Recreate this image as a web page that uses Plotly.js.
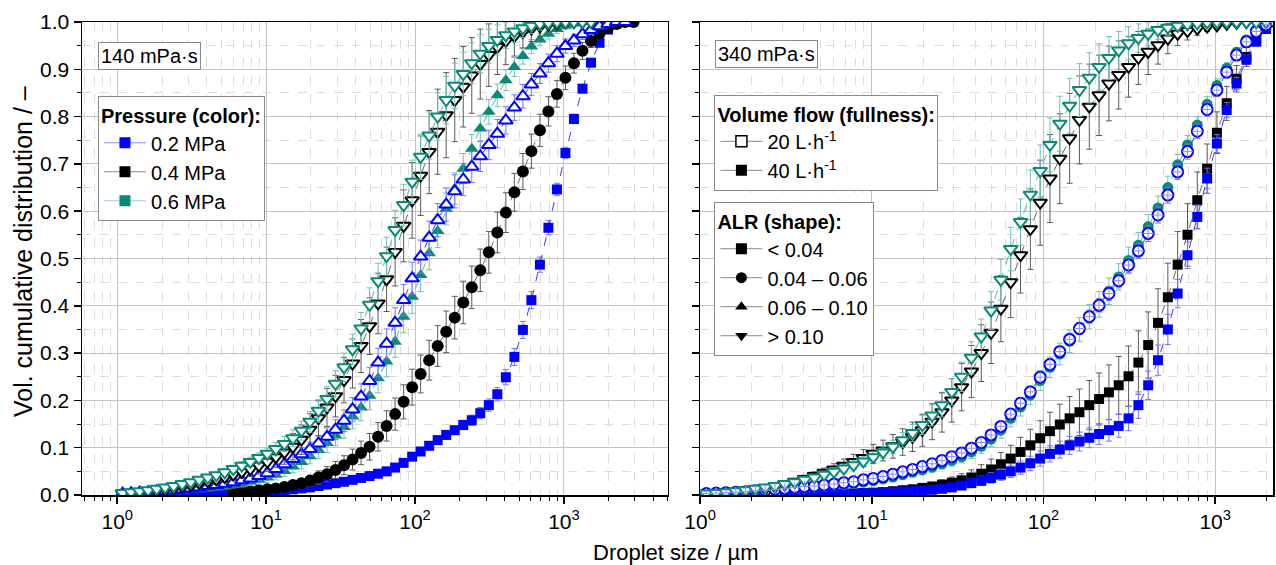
<!DOCTYPE html>
<html>
<head>
<meta charset="utf-8">
<script src="https://cdn.plot.ly/plotly-3.0.1.min.js"></script>
<style>html,body{margin:0;padding:0;background:#fff}#chart{width:1276px;height:565px}</style>
</head>
<body>
<div id="chart"></div>
<script>
// ---- size classes (µm) ----
const sizes = [1.086,1.239,1.414,1.613,1.840,2.099,2.394,2.732,3.116,3.555,4.055,4.627,5.278,6.021,6.868,7.834,8.937,
10.19,11.63,13.27,15.14,17.27,19.70,22.47,25.63,29.24,33.36,38.05,43.41,49.52,56.49,64.44,73.51,83.86,95.68,
109.1,124.5,142.0,162.0,184.9,210.9,240.6,274.4,313.1,357.2,407.4,464.8,530.3,604.9,690.1,787.0,898.0,
1024,1168,1333,1521,1735,1979,2258,2576,2938];

// ---- 140 mPa·s (left panel) ----
const left_02_40_sq = [0.001,0.001,0.001,0.002,0.002,0.002,0.002,0.003,0.003,0.003,0.004,0.004,0.005,0.005,0.006,0.006,0.007,0.008,0.009,0.010,0.012,0.014,0.016,0.019,0.022,0.025,0.028,0.032,0.036,0.040,0.045,0.050,0.058,0.068,0.081,0.092,0.104,0.116,0.127,0.137,0.148,0.158,0.173,0.190,0.213,0.249,0.292,0.349,0.412,0.487,0.565,0.646,0.723,0.795,0.859,0.914,0.956,0.984,0.997,1.0,null];
const left_02_40_sq_err = [0.001,0.001,0.001,0.001,0.001,0.001,0.001,0.001,0.001,0.001,0.002,0.002,0.002,0.002,0.002,0.002,0.002,0.002,0.002,0.002,0.004,0.004,0.004,0.004,0.004,0.004,0.004,0.004,0.004,0.004,0.008,0.008,0.008,0.008,0.008,0.008,0.008,0.008,0.008,0.008,0.010,0.011,0.012,0.013,0.014,0.016,0.018,0.018,0.018,0.016,0.015,0.013,0.012,0.010,0.009,0.008,0.006,0.004,0.002,0.001,null];

const left_04_40_ci = [null,null,null,null,null,null,null,null,null,null,null,null,null,0.006,0.007,0.008,0.010,0.012,0.014,0.017,0.021,0.025,0.030,0.037,0.044,0.053,0.063,0.075,0.089,0.102,0.123,0.146,0.171,0.197,0.228,0.256,0.285,0.315,0.345,0.375,0.407,0.439,0.475,0.513,0.555,0.597,0.640,0.684,0.727,0.771,0.811,0.848,0.882,0.913,0.939,0.960,0.976,0.988,0.996,1.0,1.0];
const left_04_40_ci_err = [null,null,null,null,null,null,null,null,null,null,null,null,null,0.003,0.003,0.004,0.004,0.005,0.006,0.007,0.008,0.010,0.012,0.014,0.016,0.018,0.020,0.022,0.025,0.028,0.030,0.032,0.034,0.036,0.038,0.040,0.042,0.043,0.044,0.045,0.045,0.045,0.045,0.044,0.043,0.042,0.040,0.038,0.036,0.034,0.031,0.028,0.025,0.021,0.018,0.014,0.011,0.008,0.005,0.002,0.001];

const left_06_40_tu = [0.003,0.004,0.005,0.005,0.006,0.007,0.008,0.009,0.011,0.012,0.014,0.016,0.018,0.021,0.024,0.028,0.032,0.037,0.043,0.051,0.060,0.070,0.082,0.095,0.110,0.126,0.144,0.166,0.185,0.210,0.247,0.282,0.324,0.377,0.419,0.465,0.511,0.558,0.605,0.648,0.690,0.732,0.775,0.810,0.845,0.877,0.905,0.928,0.948,0.963,0.975,0.985,0.992,0.997,1.0,1.0,1.0,null,null,null,null];
const left_06_40_tu_err = [0.001,0.001,0.001,0.002,0.002,0.002,0.003,0.003,0.003,0.004,0.004,0.005,0.005,0.006,0.007,0.008,0.009,0.010,0.011,0.012,0.013,0.015,0.016,0.018,0.020,0.022,0.024,0.026,0.028,0.030,0.031,0.032,0.033,0.034,0.035,0.035,0.035,0.035,0.034,0.033,0.032,0.030,0.028,0.026,0.024,0.022,0.020,0.017,0.015,0.013,0.011,0.009,0.007,0.005,0.003,0.002,0.001,null,null,null,null];

const left_02_20_tu = [0.003,0.004,0.005,0.006,0.008,0.009,0.010,0.012,0.014,0.016,0.019,0.021,0.024,0.027,0.031,0.035,0.040,0.046,0.055,0.065,0.076,0.086,0.097,0.109,0.123,0.138,0.157,0.181,0.208,0.241,0.280,0.320,0.364,0.412,0.458,0.504,0.544,0.581,0.614,0.642,0.667,0.694,0.716,0.740,0.764,0.792,0.819,0.843,0.868,0.891,0.913,0.933,0.949,0.961,0.974,0.983,0.991,0.996,1.0,1.0,null];
const left_02_20_tu_err = [0.001,0.001,0.001,0.002,0.002,0.002,0.003,0.003,0.003,0.004,0.004,0.005,0.005,0.006,0.007,0.008,0.009,0.010,0.011,0.012,0.013,0.014,0.015,0.017,0.019,0.021,0.023,0.025,0.027,0.029,0.030,0.031,0.032,0.033,0.034,0.035,0.035,0.035,0.035,0.035,0.034,0.033,0.032,0.031,0.030,0.029,0.027,0.025,0.023,0.021,0.019,0.017,0.015,0.013,0.011,0.009,0.007,0.005,0.003,0.002,null];

const left_04_20_td = [0.003,0.005,0.006,0.008,0.010,0.012,0.015,0.018,0.021,0.025,0.029,0.033,0.038,0.043,0.049,0.055,0.062,0.070,0.080,0.090,0.102,0.117,0.138,0.162,0.185,0.209,0.243,0.278,0.315,0.357,0.405,0.456,0.514,0.569,0.623,0.675,0.725,0.768,0.803,0.835,0.863,0.887,0.911,0.930,0.947,0.960,0.970,0.979,0.986,0.991,0.995,0.997,0.999,1.0,1.0,1.0,null,null,null,null,null];
const left_04_20_td_err = [0.001,0.002,0.002,0.003,0.003,0.004,0.005,0.006,0.007,0.008,0.009,0.010,0.011,0.012,0.014,0.016,0.018,0.020,0.022,0.025,0.028,0.031,0.034,0.037,0.040,0.044,0.048,0.052,0.056,0.060,0.064,0.068,0.072,0.076,0.080,0.084,0.088,0.090,0.090,0.088,0.085,0.080,0.074,0.066,0.058,0.050,0.042,0.034,0.027,0.021,0.016,0.012,0.008,0.005,0.003,0.001,null,null,null,null,null];

const left_06_20_td = [0.004,0.006,0.008,0.010,0.013,0.016,0.019,0.023,0.027,0.032,0.037,0.042,0.048,0.055,0.062,0.070,0.078,0.087,0.097,0.108,0.120,0.136,0.155,0.178,0.203,0.235,0.270,0.308,0.352,0.402,0.452,0.505,0.560,0.613,0.662,0.715,0.760,0.800,0.835,0.865,0.890,0.913,0.933,0.949,0.962,0.972,0.980,0.987,0.992,0.996,0.998,1.0,1.0,1.0,1.0,1.0,null,null,null,null,null];
const left_06_20_td_err = [0.001,0.001,0.002,0.002,0.002,0.003,0.003,0.004,0.004,0.005,0.006,0.006,0.007,0.008,0.009,0.010,0.011,0.012,0.014,0.016,0.018,0.020,0.022,0.024,0.026,0.028,0.030,0.032,0.034,0.036,0.038,0.040,0.042,0.044,0.046,0.048,0.050,0.050,0.050,0.048,0.046,0.043,0.040,0.036,0.032,0.028,0.024,0.020,0.016,0.013,0.010,0.007,0.005,0.003,0.002,0.001,null,null,null,null,null];

// ---- 340 mPa·s (right panel) ----
const right_02_40_sq = [null,null,null,null,null,null,null,null,0.000,0.001,0.001,0.001,0.002,0.002,0.003,0.003,0.004,0.004,0.005,0.006,0.007,0.008,0.009,0.011,0.013,0.016,0.020,0.025,0.030,0.036,0.043,0.050,0.058,0.067,0.077,0.087,0.096,0.105,0.113,0.121,0.129,0.137,0.146,0.162,0.190,0.232,0.285,0.350,0.426,0.507,0.588,0.669,0.743,0.814,0.870,0.920,0.958,0.985,1.0,1.0,null];
const right_02_40_sq_err = [null,null,null,null,null,null,null,null,0.001,0.001,0.001,0.001,0.002,0.002,0.002,0.002,0.003,0.003,0.003,0.004,0.004,0.005,0.005,0.006,0.006,0.007,0.008,0.009,0.010,0.011,0.012,0.013,0.014,0.015,0.016,0.017,0.018,0.019,0.020,0.021,0.022,0.023,0.024,0.026,0.028,0.030,0.032,0.032,0.030,0.028,0.025,0.022,0.019,0.016,0.013,0.010,0.007,0.004,0.002,0.001,null];

const right_04_40_sq = [null,null,null,null,null,null,null,null,null,null,null,null,null,null,null,0.003,0.004,0.005,0.006,0.008,0.010,0.012,0.015,0.018,0.022,0.026,0.031,0.037,0.045,0.054,0.065,0.077,0.091,0.105,0.120,0.135,0.149,0.162,0.175,0.190,0.203,0.217,0.232,0.251,0.280,0.317,0.364,0.418,0.487,0.550,0.623,0.690,0.766,0.828,0.880,0.926,0.965,0.990,1.0,1.0,null];
const right_04_40_sq_err = [null,null,null,null,null,null,null,null,null,null,null,null,null,null,null,0.002,0.002,0.003,0.003,0.004,0.005,0.006,0.007,0.008,0.010,0.012,0.014,0.016,0.019,0.022,0.025,0.028,0.031,0.034,0.037,0.040,0.043,0.046,0.049,0.052,0.055,0.058,0.061,0.064,0.067,0.070,0.072,0.072,0.070,0.066,0.060,0.052,0.044,0.036,0.028,0.020,0.013,0.007,0.003,0.001,null];

const right_02_20_ci = [0.003,0.004,0.005,0.006,0.007,0.009,0.010,0.012,0.014,0.016,0.018,0.019,0.021,0.023,0.026,0.028,0.032,0.035,0.039,0.044,0.049,0.054,0.060,0.066,0.073,0.081,0.089,0.099,0.111,0.127,0.145,0.171,0.194,0.218,0.249,0.276,0.303,0.329,0.352,0.377,0.401,0.426,0.453,0.486,0.516,0.553,0.592,0.634,0.683,0.726,0.769,0.815,0.856,0.894,0.930,0.958,0.980,0.994,1.0,1.0,null];
const right_02_20_ci_err = [0.001,0.001,0.001,0.001,0.002,0.002,0.002,0.002,0.003,0.003,0.003,0.003,0.004,0.004,0.004,0.005,0.005,0.005,0.006,0.006,0.006,0.007,0.007,0.007,0.008,0.008,0.008,0.009,0.009,0.010,0.010,0.010,0.011,0.011,0.012,0.012,0.012,0.013,0.013,0.014,0.014,0.015,0.015,0.016,0.016,0.017,0.017,0.017,0.016,0.016,0.015,0.014,0.013,0.012,0.010,0.008,0.006,0.004,0.002,0.001,null];

const right_06_40_ci = [0.002,0.003,0.004,0.005,0.006,0.007,0.008,0.010,0.012,0.013,0.015,0.016,0.018,0.020,0.022,0.024,0.027,0.030,0.034,0.038,0.043,0.048,0.053,0.059,0.066,0.073,0.081,0.091,0.103,0.118,0.137,0.162,0.186,0.211,0.242,0.270,0.298,0.325,0.350,0.377,0.403,0.431,0.461,0.496,0.528,0.567,0.607,0.650,0.698,0.740,0.782,0.826,0.866,0.902,0.936,0.962,0.983,0.995,1.0,1.0,null];
const right_06_40_ci_err = [0.001,0.001,0.001,0.002,0.002,0.002,0.003,0.003,0.003,0.004,0.004,0.004,0.005,0.005,0.006,0.006,0.007,0.007,0.008,0.008,0.009,0.009,0.010,0.011,0.011,0.012,0.013,0.014,0.015,0.016,0.017,0.018,0.019,0.020,0.021,0.022,0.023,0.024,0.025,0.026,0.027,0.028,0.028,0.028,0.027,0.026,0.025,0.024,0.022,0.020,0.018,0.016,0.014,0.012,0.010,0.008,0.006,0.004,0.002,0.001,null];

const right_04_20_td = [0.003,0.004,0.006,0.007,0.009,0.011,0.013,0.017,0.022,0.028,0.034,0.040,0.047,0.054,0.062,0.070,0.078,0.087,0.094,0.103,0.112,0.123,0.137,0.155,0.175,0.200,0.228,0.261,0.300,0.343,0.394,0.450,0.507,0.562,0.618,0.669,0.711,0.754,0.793,0.821,0.845,0.870,0.888,0.905,0.924,0.937,0.951,0.965,0.975,0.981,0.986,0.990,0.993,0.996,0.998,1.0,1.0,1.0,null,null,null];
const right_04_20_td_err = [0.001,0.001,0.002,0.002,0.003,0.003,0.004,0.005,0.006,0.007,0.008,0.009,0.010,0.012,0.014,0.016,0.018,0.020,0.022,0.025,0.028,0.031,0.034,0.038,0.042,0.046,0.050,0.055,0.060,0.065,0.070,0.075,0.080,0.085,0.090,0.093,0.095,0.095,0.093,0.090,0.085,0.079,0.072,0.064,0.056,0.048,0.040,0.032,0.025,0.019,0.014,0.010,0.007,0.004,0.002,0.001,0.001,0.001,null,null,null];

const right_06_20_td = [0.003,0.004,0.006,0.008,0.010,0.013,0.016,0.019,0.023,0.027,0.032,0.037,0.043,0.049,0.056,0.063,0.071,0.080,0.090,0.102,0.116,0.131,0.148,0.168,0.190,0.218,0.250,0.290,0.335,0.390,0.455,0.520,0.577,0.635,0.685,0.740,0.785,0.823,0.856,0.882,0.905,0.924,0.940,0.955,0.966,0.975,0.983,0.988,0.992,0.995,0.997,0.999,1.0,1.0,1.0,1.0,1.0,1.0,null,null,null];
const right_06_20_td_err = [0.001,0.001,0.001,0.002,0.002,0.002,0.003,0.003,0.004,0.004,0.005,0.005,0.006,0.007,0.008,0.009,0.010,0.011,0.012,0.014,0.016,0.018,0.020,0.022,0.025,0.028,0.031,0.034,0.037,0.040,0.043,0.046,0.049,0.052,0.055,0.057,0.058,0.058,0.056,0.053,0.049,0.045,0.040,0.035,0.030,0.025,0.020,0.016,0.012,0.009,0.006,0.004,0.003,0.002,0.001,0.001,0.001,0.001,null,null,null];

// ---- labels ----
const xTickVals = [1, 10, 100, 1000];
const xTickText = ['10<sup>0</sup>', '10<sup>1</sup>', '10<sup>2</sup>', '10<sup>3</sup>'];
const pressureLabels = ['0.2 MPa', '0.4 MPa', '0.6 MPa'];
const flowLabels = ['20 L·h<sup>-1</sup>', '40 L·h<sup>-1</sup>'];
const alrLabels = ['< 0.04', '0.04 – 0.06', '0.06 – 0.10', '> 0.10'];
const panelLabels = ['140 mPa·s', '340 mPa·s'];

// ---- styles ----
const BLUE = '#0000ff', BLACK = '#000000', TEAL = '#0a8a76';
const ERR = {blue: '#7373ff', black: '#5a5a5a', teal: '#72c2b2'};
const LINE = {blue: '#3a3aff', black: '#6a6a6a', teal: '#5fb5a5'};

function series(y, err, xa, ya, c, symbol, filled, size) {
  const col = c === 'blue' ? BLUE : (c === 'black' ? BLACK : TEAL);
  return {
    x: sizes, y: y, xaxis: xa, yaxis: ya, type: 'scatter', mode: 'lines+markers',
    showlegend: false, hoverinfo: 'skip', cliponaxis: true,
    line: {color: LINE[c], width: 1, dash: 'dash'},
    marker: {symbol: symbol, size: size,
      color: filled ? col : '#ffffff',
      line: {color: col, width: filled ? 0 : 2}},
    error_y: {type: 'data', array: err, visible: true, color: ERR[c], thickness: 1, width: 3}
  };
}

const traces = [
  series(left_02_40_sq, left_02_40_sq_err, 'x', 'y', 'blue', 'square', true, 10),
  series(left_04_40_ci, left_04_40_ci_err, 'x', 'y', 'black', 'circle', true, 12),
  series(left_06_40_tu, left_06_40_tu_err, 'x', 'y', 'teal', 'triangle-up', true, 12),
  series(left_02_20_tu, left_02_20_tu_err, 'x', 'y', 'blue', 'triangle-up', false, 12),
  series(left_04_20_td, left_04_20_td_err, 'x', 'y', 'black', 'triangle-down', false, 12),
  series(left_06_20_td, left_06_20_td_err, 'x', 'y', 'teal', 'triangle-down', false, 12),

  series(right_04_40_sq, right_04_40_sq_err, 'x2', 'y2', 'black', 'square', true, 10),
  series(right_02_40_sq, right_02_40_sq_err, 'x2', 'y2', 'blue', 'square', true, 10),
  series(right_06_40_ci, right_06_40_ci_err, 'x2', 'y2', 'teal', 'circle', true, 11),
  series(right_02_20_ci, right_02_20_ci_err, 'x2', 'y2', 'blue', 'circle', false, 11),
  series(right_04_20_td, right_04_20_td_err, 'x2', 'y2', 'black', 'triangle-down', false, 12),
  series(right_06_20_td, right_06_20_td_err, 'x2', 'y2', 'teal', 'triangle-down', false, 12)
];
// thin cross inside the open circles
traces.push({x: sizes, y: right_02_20_ci, xaxis: 'x2', yaxis: 'y2', type: 'scatter', mode: 'markers',
  showlegend: false, hoverinfo: 'skip',
  marker: {symbol: 'cross-thin', size: 8, color: '#8c8cff', line: {color: '#8c8cff', width: 1}}});

// legend entries
function legendItem(name, legend, col, lineCol, symbol, filled) {
  return {x: [null], y: [null], type: 'scatter', mode: 'lines+markers', name: name, legend: legend,
    showlegend: true, hoverinfo: 'skip',
    line: {color: lineCol, width: 1},
    marker: {symbol: symbol, size: 11, color: filled ? col : '#ffffff', line: {color: col, width: filled ? 0 : 1.5}}};
}
traces.push(legendItem(pressureLabels[0], 'legend', BLUE, '#8f8fff', 'square', true));
traces.push(legendItem(pressureLabels[1], 'legend', BLACK, '#8a8a8a', 'square', true));
traces.push(legendItem(pressureLabels[2], 'legend', TEAL, '#9ad3c8', 'square', true));
traces.push(legendItem(flowLabels[0], 'legend2', BLACK, '#8a8a8a', 'square', false));
traces.push(legendItem(flowLabels[1], 'legend2', BLACK, '#8a8a8a', 'square', true));
traces.push(legendItem(alrLabels[0], 'legend3', BLACK, '#8a8a8a', 'square', true));
traces.push(legendItem(alrLabels[1], 'legend3', BLACK, '#8a8a8a', 'circle', true));
traces.push(legendItem(alrLabels[2], 'legend3', BLACK, '#8a8a8a', 'triangle-up', true));
traces.push(legendItem(alrLabels[3], 'legend3', BLACK, '#8a8a8a', 'triangle-down', true));

// minor tick positions on log axes
const minorVals = [];
[0.1, 1, 10, 100, 1000].forEach(d => { for (let m = 2; m <= 9; m++) minorVals.push(d * m); });

const FONT = 'Liberation Sans, Arial, sans-serif';
function xAxis(domain, anchor, range) {
  return {type: 'log', domain: domain, anchor: anchor, range: range,
    tickmode: 'array', tickvals: xTickVals, ticktext: xTickText,
    ticks: 'outside', ticklen: 7, tickwidth: 1.5, tickcolor: '#000',
    showline: true, linecolor: '#000', linewidth: 1.5, mirror: true,
    showgrid: true, gridcolor: '#c4c4c4', gridwidth: 1, zeroline: false,
    tickfont: {size: 21, color: '#000'},
    minor: {tickmode: 'array', tickvals: minorVals, ticks: 'outside', ticklen: 4, tickwidth: 1, tickcolor: '#000',
      showgrid: true, gridcolor: '#dcdcdc', griddash: 'dash', gridwidth: 1}};
}
function yAxis(anchor, labels) {
  return {domain: [0, 1], anchor: anchor, range: [0, 1], dtick: 0.1, tickformat: '.1f',
    ticks: 'outside', ticklen: 7, tickwidth: 1.5, tickcolor: '#000', showticklabels: labels,
    showline: true, linecolor: '#000', linewidth: 1.5, mirror: true,
    showgrid: true, gridcolor: '#c4c4c4', gridwidth: 1, zeroline: false,
    tickfont: {size: 21, color: '#000'},
    minor: {dtick: 0.05, ticks: 'outside', ticklen: 4, tickwidth: 1, tickcolor: '#000',
      showgrid: true, gridcolor: '#dcdcdc', griddash: 'dash', gridwidth: 1}};
}
function legendBox(x, y, title) {
  return {x: x, y: y, xanchor: 'left', yanchor: 'top', bgcolor: '#ffffff', bordercolor: '#8a8a8a', borderwidth: 1,
    font: {size: 20, color: '#000', family: FONT}, itemwidth: 42, tracegroupgap: 0,
    title: {text: '<b>' + title + '</b>', font: {size: 20, color: '#000', family: FONT}},
    itemclick: false, itemdoubleclick: false};
}

const layout = {
  width: 1276, height: 565,
  margin: {l: 82, r: 3, t: 22, b: 70, pad: 0},
  paper_bgcolor: '#ffffff', plot_bgcolor: '#ffffff',
  font: {family: FONT, color: '#000', size: 20},
  xaxis: xAxis([0, 0.492], 'y', [Math.log10(0.58), Math.log10(5000)]),
  yaxis: yAxis('x', true),
  xaxis2: xAxis([0.519, 1], 'y2', [0, 3.337]),
  yaxis2: yAxis('x2', false),
  legend: legendBox(0.0134, 0.843, 'Pressure (color):'),
  legend2: legendBox(0.531, 0.846, 'Volume flow (fullness):'),
  legend3: legendBox(0.531, 0.619, 'ALR (shape):'),
  annotations: [
    {text: panelLabels[0], xref: 'paper', yref: 'paper', x: 0.0134, y: 0.958, xanchor: 'left', yanchor: 'top',
      showarrow: false, bgcolor: '#fff', bordercolor: '#8a8a8a', borderwidth: 1, borderpad: 2, font: {size: 20}},
    {text: panelLabels[1], xref: 'paper', yref: 'paper', x: 0.5315, y: 0.962, xanchor: 'left', yanchor: 'top',
      showarrow: false, bgcolor: '#fff', bordercolor: '#8a8a8a', borderwidth: 1, borderpad: 2, font: {size: 20}},
    {text: 'Droplet size / µm', xref: 'paper', yref: 'paper', x: 0.499, y: -0.122, xanchor: 'center', yanchor: 'middle',
      showarrow: false, font: {size: 22}},
    {text: 'Vol. cumulative distribution / –', xref: 'paper', yref: 'paper', x: -0.049, y: 0.515, xanchor: 'center', yanchor: 'middle',
      textangle: -90, showarrow: false, font: {size: 25}}
  ]
};

Plotly.newPlot('chart', traces, layout, {displayModeBar: false, staticPlot: true});
</script>
</body>
</html>
